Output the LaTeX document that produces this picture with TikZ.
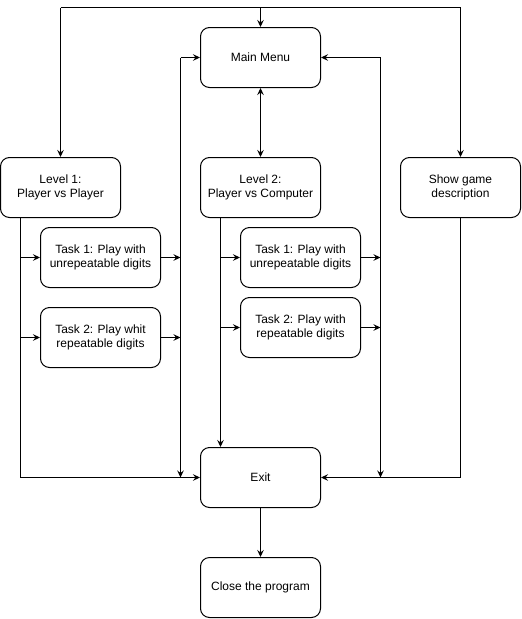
\documentclass[tikz,border=0pt]{standalone}
\usepackage{fontspec}
\setmainfont{Liberation Sans}
\usetikzlibrary{arrows.meta}
\begin{document}
\begin{tikzpicture}[x=1pt,y=-1pt,
  box/.style={draw, rounded corners=9pt, minimum width=120pt, minimum height=60pt, inner sep=0pt, align=center, font=\fontsize{12}{14}\selectfont, line width=1pt},
  conn/.style={line width=1pt, -{Stealth[length=7pt,width=6.5pt,inset=2.5pt]}},
  dconn/.style={line width=1pt, {Stealth[length=7pt,width=6.5pt,inset=2.5pt]}-{Stealth[length=7pt,width=6.5pt,inset=2.5pt]}},
  plain/.style={line width=1pt}]
\useasboundingbox (0,0) rectangle (522,619);
\node[box] (mm) at (260.5,57.5) {Main Menu};
\node[box] (l1) at (60.5,187.5) {Level 1:\\Player vs Player};
\node[box] (l2) at (260.5,187.5) {Level 2:\\Player vs Computer};
\node[box] (sg) at (460.5,187.5) {Show game\\description};
\node[box] (t1a) at (100.5,257.5) {Task 1: Play with\\unrepeatable digits};
\node[box] (t2a) at (100.5,337.5) {Task 2: Play whit\\repeatable digits};
\node[box] (t1b) at (300.5,257.5) {Task 1: Play with\\unrepeatable digits};
\node[box] (t2b) at (300.5,327.5) {Task 2: Play with\\repeatable digits};
\node[box] (ex) at (260.5,477.5) {Exit};
\node[box] (cl) at (260.5,587.5) {Close the program};
% top bus
\coordinate (topL) at (60.5,7.5);
\coordinate (topM) at (260.5,7.5);
\coordinate (topR) at (460.5,7.5);
\draw[plain] (topL) -- (topR);
\draw[conn] (topM) -- (mm);
\draw[conn] (topL) -- (l1);
\draw[conn] (topR) -- (sg);
\draw[dconn] (mm) -- (l2);
% left bus
\coordinate (lA) at (180.5,57.5);
\coordinate (lB) at (180.5,477.5);
\draw[conn] (lA) -- (mm);
\draw[conn] (lA) -- (lB);
\draw[conn] (t1a) -- (t1a -| lA);
\draw[conn] (t2a) -- (t2a -| lA);
% level 1 trunk
\coordinate (lx) at (20.5,477.5);
\draw[conn] (l1.south -| lx) -- (lx) -- (ex);
\draw[conn] (t1a -| lx) -- (t1a);
\draw[conn] (t2a -| lx) -- (t2a);
% level 2 trunk
\coordinate (mx) at (220.5,217.5);
\draw[conn] (mx) -- (ex.north -| mx);
\draw[conn] (t1b -| mx) -- (t1b);
\draw[conn] (t2b -| mx) -- (t2b);
% right bus
\coordinate (rA) at (380.5,57.5);
\coordinate (rB) at (380.5,477.5);
\draw[conn] (rA) -- (mm);
\draw[conn] (rA) -- (rB);
\draw[conn] (t1b) -- (t1b -| rA);
\draw[conn] (t2b) -- (t2b -| rA);
% show game
\coordinate (sx) at (460.5,477.5);
\draw[conn] (sg) -- (sx) -- (ex);
% exit
\draw[conn] (ex) -- (cl);
\end{tikzpicture}
\end{document}
